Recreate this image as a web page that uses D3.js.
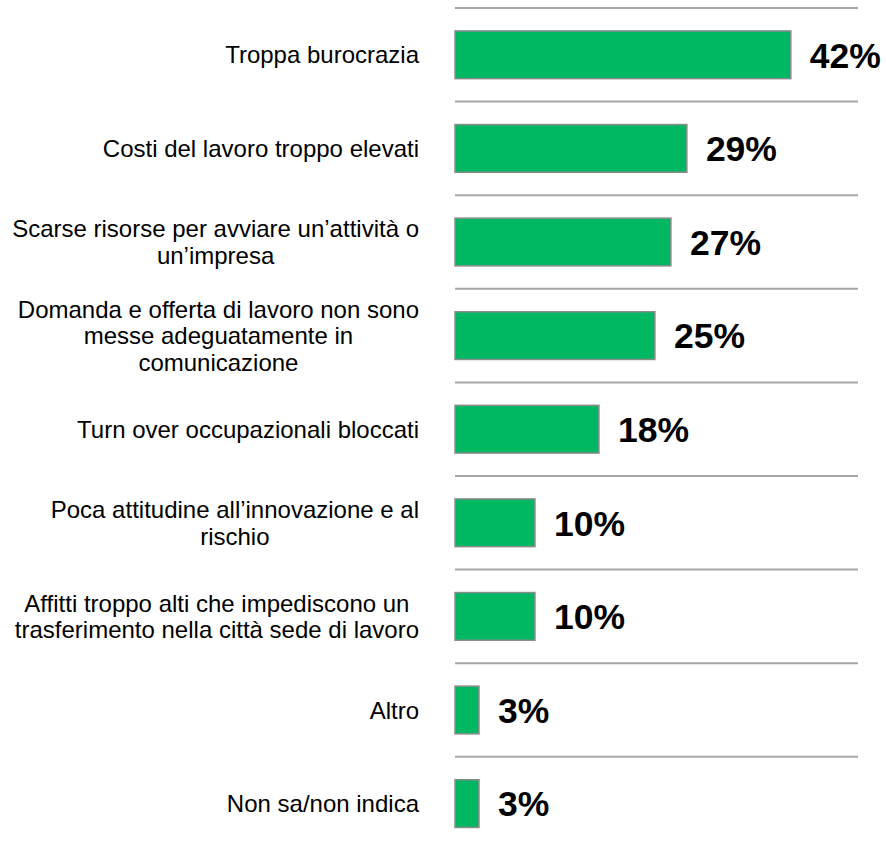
<!DOCTYPE html>
<html>
<head>
<meta charset="utf-8">
<script src="https://cdn.jsdelivr.net/npm/d3@7"></script>
<style>
  html, body { margin: 0; padding: 0; background: #fff; }
  svg { display: block; font-family: "Liberation Sans", Arial, sans-serif; }
</style>
</head>
<body>
<div id="chart"></div>
<script>
// Motivi (righe di etichetta) e percentuali
const categorie = [
  ['Troppa burocrazia'],
  ['Costi del lavoro troppo elevati'],
  ['Scarse risorse per avviare un\u2019attività o', 'un\u2019impresa'],
  ['Domanda e offerta di lavoro non sono', 'messe adeguatamente in', 'comunicazione'],
  ['Turn over occupazionali bloccati'],
  ['Poca attitudine all\u2019innovazione e al', 'rischio'],
  ['Affitti troppo alti che impediscono un', 'trasferimento nella città sede di lavoro'],
  ['Altro'],
  ['Non sa/non indica']
];
const valori = [42, 29, 27, 25, 18, 10, 10, 3, 3];
const etichette = valori.map(v => v + '%');

const width = 886;
const height = 848;
const labelRight = 419;

const svg = d3.select('#chart')
  .append('svg')
  .attr('width', width)
  .attr('height', height);

const x = d3.scaleLinear()
  .domain([0, 50.4])
  .range([455, 858]);

const y = d3.scaleBand()
  .domain(d3.range(categorie.length))
  .range([8, 8 + 93.6 * categorie.length])
  .paddingInner(0.49)
  .paddingOuter(0.245);

const offset = y.step() * y.paddingOuter();

// linee separatrici sopra ogni riga
svg.selectAll('line.sep')
  .data(d3.range(categorie.length))
  .join('line')
  .attr('class', 'sep')
  .attr('x1', x(0))
  .attr('x2', x(50.4))
  .attr('y1', i => y(i) - offset)
  .attr('y2', i => y(i) - offset)
  .attr('stroke', '#a6a6a6')
  .attr('stroke-width', 2);

// barre
svg.selectAll('rect.bar')
  .data(valori)
  .join('rect')
  .attr('class', 'bar')
  .attr('x', x(0))
  .attr('y', (d, i) => y(i))
  .attr('width', d => x(d) - x(0))
  .attr('height', y.bandwidth())
  .attr('fill', '#00b862')
  .attr('stroke', '#8c8c8c')
  .attr('stroke-width', 1.5);

// valori
svg.selectAll('text.val')
  .data(valori)
  .join('text')
  .attr('class', 'val')
  .attr('x', d => x(d) + 19)
  .attr('y', (d, i) => y(i) + y.bandwidth() / 2 + 12.7)
  .attr('font-size', '35.5px')
  .attr('font-weight', 'bold')
  .attr('fill', '#000')
  .text((d, i) => etichette[i]);

// etichette delle categorie: blocco allineato a destra, righe centrate
const lineH = 26.5;
const fontSize = 24;
categorie.forEach((righe, i) => {
  const g = svg.append('g');
  const cy = y(i) + y.bandwidth() / 2;
  const texts = righe.map((r, k) => g.append('text')
    .attr('font-size', fontSize + 'px')
    .attr('fill', '#000')
    .attr('text-anchor', 'middle')
    .attr('y', cy + (k - (righe.length - 1) / 2) * lineH + fontSize * 0.36)
    .text(r));
  const maxW = d3.max(texts, t => t.node().getComputedTextLength());
  texts.forEach(t => t.attr('x', labelRight - maxW / 2));
});
</script>
</body>
</html>
